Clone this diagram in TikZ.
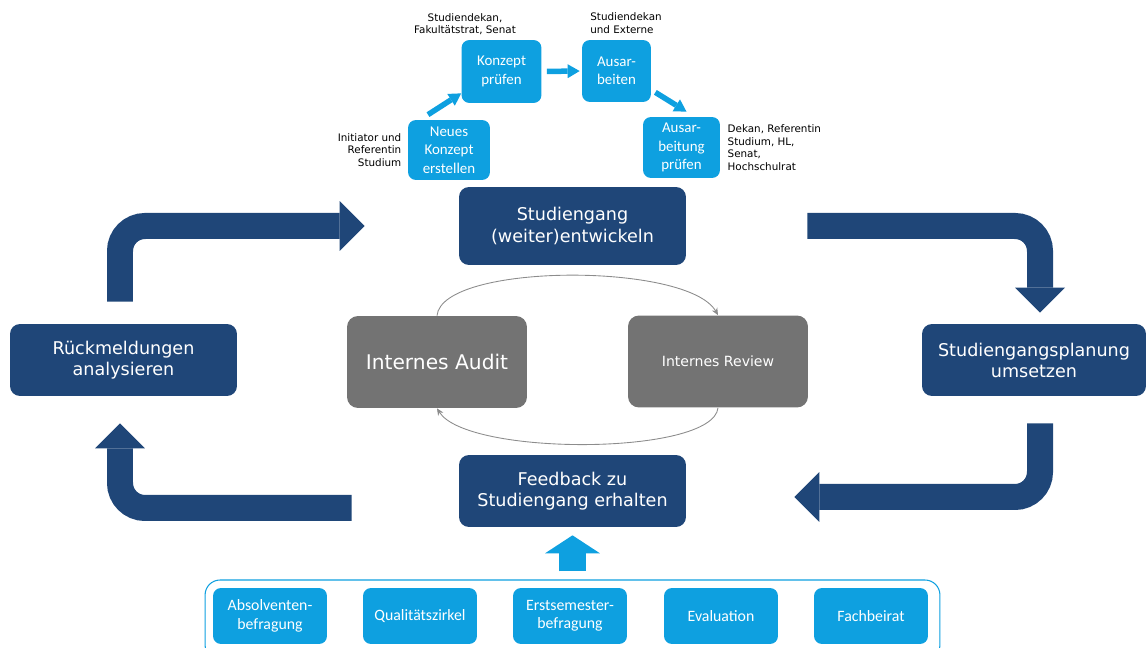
\documentclass[tikz,border=0pt]{standalone}
\usepackage{fontspec}
\setmainfont{DejaVu Sans}
\newfontfamily\calibfont{Carlito}
\usetikzlibrary{arrows.meta,positioning}

\definecolor{darkblue}{HTML}{1F4678}
\definecolor{lightblue}{HTML}{0EA0E0}
\definecolor{boxgrey}{HTML}{737373}
\definecolor{arcgrey}{HTML}{8C8C8C}

\begin{document}
\begin{tikzpicture}[x=0.02cm, y=-0.02cm,
	mainstep/.style={rectangle, rounded corners=0.2cm, fill=darkblue, text=white, align=center,
		minimum width=4.54cm, minimum height=1.44cm, inner sep=0pt, font=\fontsize{10}{12}\selectfont},
	auditbox/.style={rectangle, rounded corners=0.22cm, fill=boxgrey, text=white, align=center,
		minimum width=3.6cm, minimum height=1.84cm, inner sep=0pt},
	substep/.style={rectangle, rounded corners=0.16cm, fill=lightblue, text=white, align=center,
		minimum width=1.6cm, minimum height=1.24cm, inner sep=0pt, font=\calibfont\fontsize{8.5}{10.5}\selectfont},
	source/.style={rectangle, rounded corners=0.16cm, fill=lightblue, text=white, align=center,
		minimum width=2.28cm, minimum height=1.12cm, inner sep=0pt, font=\calibfont\fontsize{9}{10.5}\selectfont},
	sourceframe/.style={rectangle, rounded corners=0.3cm, draw=lightblue, line width=0.6pt,
		minimum width=14.7cm, minimum height=1.6cm},
	role/.style={inner sep=0pt, font=\fontsize{5.9}{7.1}\selectfont},
	bigarrow/.style={draw=darkblue, line width=0.52cm, rounded corners=0.5cm,
		-{Triangle[length=0.5cm, width=1cm, line width=0pt]}},
	smallarrow/.style={draw=lightblue, line width=0.11cm,
		-{Triangle[length=0.24cm, width=0.28cm, line width=0pt]}},
	cyclearc/.style={draw=arcgrey, line width=0.5pt, -{Stealth[length=4pt, width=3.5pt]}}]
	\useasboundingbox (0,0) rectangle (1147,648);

	% main cycle
	\node[mainstep, minimum height=1.56cm] (sg) at (572.5,226) {Studiengang\\(weiter)entwickeln};
	\node[mainstep, minimum width=4.48cm] (pu) at (1034,360) {Studiengangsplanung\\umsetzen};
	\node[mainstep] (fb) at (572.5,491) {Feedback zu\\Studiengang erhalten};
	\node[mainstep] (rm) at (123.5,360) {Rückmeldungen\\analysieren};

	\draw[bigarrow, shorten <=0.44cm, shorten >=1.88cm] ([xshift=-0.07cm]rm.north) |- (sg.west);
	\draw[bigarrow, shorten <=2.42cm, shorten >=0.22cm] (sg.east) -| ([xshift=0.12cm]pu.north);
	\draw[bigarrow, shorten <=0.54cm, shorten >=2.16cm] ([xshift=0.12cm]pu.south) |- ([yshift=-0.12cm]fb.east);
	\draw[bigarrow, shorten <=2.14cm, shorten >=0.54cm] ([yshift=-0.34cm]fb.west) -| ([xshift=-0.07cm]rm.south);

	% audit and review
	\node[auditbox, font=\fontsize{11.5}{14}\selectfont] (ia) at (437,362) {Internes Audit};
	\node[auditbox, font=\fontsize{8}{10}\selectfont] (ir) at (718,361.5) {Internes Review};

	\draw[cyclearc] (ia.north) .. controls +(5,-53) and +(-30,-53) .. (ir.north);
	\draw[cyclearc] (ir.south) .. controls +(-5,48) and +(30,48) .. (ia.south);

	% development steps
	\node[substep, minimum width=1.64cm, minimum height=1.2cm] (nk) at (449,150) {Neues\\Konzept\\erstellen};
	\node[substep, minimum height=1.26cm] (kp) at (501.5,71.5) {Konzept\\prüfen};
	\node[substep, minimum width=1.38cm] (ab) at (616.5,71) {Ausar-\\beiten};
	\node[substep, minimum width=1.54cm, minimum height=1.22cm] (abp) at (681.5,147.5) {Ausar-\\beitung\\prüfen};

	\draw[smallarrow] ([xshift=-0.42cm, yshift=0.1cm]nk.north) -- ([yshift=0.2cm]kp.south west);
	\draw[smallarrow, shorten <=0.1cm, shorten >=0.04cm] (kp.east) -- (ab.west);
	\draw[smallarrow] ([xshift=0.08cm, yshift=0.2cm]ab.south east) -- ([xshift=0.1cm, yshift=0.1cm]abp.north);

	\node[role, align=right, left=0.12cm of nk] (nkrole) {Initiator und\\Referentin\\Studium};
	\node[role, align=center] (kprole) at (465,24) {Studiendekan,\\Fakultätstrat, Senat};
	\node[role, align=left, anchor=west] (abrole) at (590,23) {Studiendekan\\und Externe};
	\node[role, align=left, right=0.14cm of abp] (abprole) {Dekan, Referentin\\Studium, HL,\\Senat,\\Hochschulrat};

	% feedback sources
	\node[sourceframe] (src) at (572.5,620) {};
	\foreach \x/\name/\txt in {270/absb/{Absolventen-\\befragung}, 420/qz/{Qualitätszirkel},
		570/erst/{Erstsemester-\\befragung}, 721/eval/{Evaluation}, 871/fbr/{Fachbeirat}}
		\node[source] (\name) at (\x,616) {\txt};

	\draw[draw=lightblue, line width=0.54cm, shorten <=0.16cm, shorten >=0.16cm,
		-{Triangle[length=0.36cm, width=1.1cm, line width=0pt]}] (src.north) -- (fb.south);
\end{tikzpicture}
\end{document}
